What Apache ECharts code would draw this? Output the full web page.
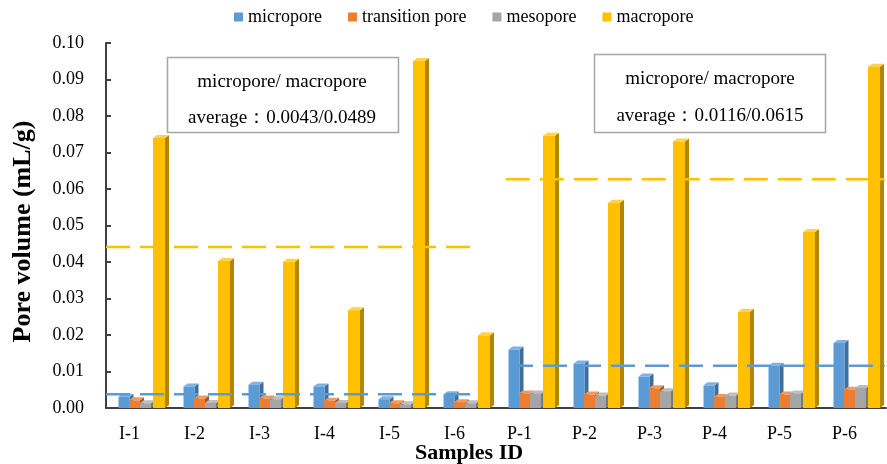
<!DOCTYPE html>
<html><head><meta charset="utf-8">
<script src="https://cdn.jsdelivr.net/npm/echarts@6/dist/echarts.min.js"></script>
<style>html,body{margin:0;padding:0;background:#fff}#c{width:887px;height:464px}</style>
</head><body><div id="c"></div><script>
const categories = ['I-1','I-2','I-3','I-4','I-5','I-6','P-1','P-2','P-3','P-4','P-5','P-6'];
const micropore      = [0.0031,0.0059,0.0064,0.0059,0.0024,0.0038,0.0160,0.0122,0.0086,0.0062,0.0116,0.0178];
const transitionPore = [0.0021,0.0026,0.0026,0.0020,0.0013,0.0016,0.0040,0.0037,0.0054,0.0030,0.0037,0.0050];
const mesopore       = [0.0013,0.0014,0.0024,0.0014,0.0010,0.0013,0.0040,0.0034,0.0046,0.0034,0.0040,0.0055];
const macropore      = [0.0740,0.0403,0.0401,0.0268,0.0951,0.0199,0.0746,0.0562,0.0730,0.0264,0.0482,0.0935];
const seriesNames = ['micropore','transition pore','mesopore','macropore'];
// dashed average lines as drawn: [start position, end position, value] in category units
const microAvgI = [0, 5.7, 0.0038];
const macroAvgI = [0, 5.7, 0.0441];
const microAvgP = [6.2, 11.98, 0.0116];
const macroAvgP = [6.15, 11.98, 0.0627];
const boxLine1 = 'micropore/ macropore';
const boxLine2I = 'average：0.0043/0.0489';
const boxLine2P = 'average：0.0116/0.0615';

const serif = '"Liberation Serif","Times New Roman",serif';
const pal = [
  {front:'#5B9BD5', side:'#3F6E9A', top:'#7FB2E0', off:-20, w:11},
  {front:'#ED7D31', side:'#A95823', top:'#F29A5E', off:-9.5, w:11},
  {front:'#A5A5A5', side:'#787878', top:'#BDBDBD', off:1.5, w:11},
  {front:'#FFC000', side:'#B38600', top:'#FFD24D', off:14.5, w:12}
];
function make3D(c){
  return function(params, api){
    const i = api.value(0), v = api.value(1);
    const p = api.coord([i, v]); const b = api.coord([i, 0]);
    const x0 = p[0] + c.off, w = c.w, d = 4, dy = 3;
    const yT = p[1], yB = b[1];
    return {type:'group', children:[
      {type:'polygon', shape:{points:[[x0+w,yT],[x0+w+d,yT-dy],[x0+w+d,yB-dy],[x0+w,yB]]}, style:{fill:c.side}},
      {type:'polygon', shape:{points:[[x0,yT],[x0+d,yT-dy],[x0+w+d,yT-dy],[x0+w,yT]]}, style:{fill:c.top}},
      {type:'rect', shape:{x:x0,y:yT,width:w,height:yB-yT}, style:{fill:c.front}}
    ]};
  };
}
const dataSets = [micropore, transitionPore, mesopore, macropore];
const barSeries = dataSets.map((arr, k) => ({
  type:'custom', name:seriesNames[k], xAxisIndex:0, yAxisIndex:0,
  itemStyle:{color:pal[k].front},
  renderItem: make3D(pal[k]),
  encode:{x:0, y:1},
  data: arr.map((v, i) => [i, v]),
  z: 2
}));
function avgLine(seg, color){
  return {type:'line', xAxisIndex:1, yAxisIndex:0, symbol:'none', silent:true, z:5,
    lineStyle:{color:color, width:2.5, type:[24,10]},
    data:[[seg[0], seg[2]],[seg[1], seg[2]]]};
}
const chart = echarts.init(document.getElementById('c'));
chart.setOption({
  animation:false,
  legend:{
    left:229, top:3, itemWidth:9, itemHeight:9, itemGap:26,
    data: seriesNames.map(n => ({name:n, icon:'rect'})),
    textStyle:{fontFamily:serif, fontSize:18, color:'#000'}
  },
  grid:{left:106, right:1, top:43, bottom:56, outerBoundsMode:'none', containLabel:false},
  xAxis:[{
    type:'category', data:categories,
    axisLine:{lineStyle:{color:'#404040', width:2}},
    axisTick:{show:false},
    axisLabel:{fontFamily:serif, fontSize:18, color:'#000', margin:17, padding:[0,18,0,0]},
    name:'Samples ID', nameLocation:'middle', nameGap:34, nameMoveOverlap:false,
    nameTextStyle:{fontFamily:serif, fontSize:22, fontWeight:'bold', color:'#000', padding:[0,54,0,0]}
  },{
    type:'value', min:0, max:12, show:false
  }],
  yAxis:{
    type:'value', min:0, max:0.1, interval:0.01,
    axisLine:{show:true, lineStyle:{color:'#404040', width:2}},
    axisTick:{show:true, inside:true, length:5, lineStyle:{color:'#404040', width:2}},
    splitLine:{show:false},
    axisLabel:{fontFamily:serif, fontSize:18, color:'#000', margin:22, formatter:v => v.toFixed(2)},
    name:'Pore volume (mL/g)', nameLocation:'middle', nameGap:70, nameMoveOverlap:false,
    nameTextStyle:{fontFamily:serif, fontSize:26, fontWeight:'bold', color:'#000', padding:[0,12,0,0]}
  },
  series: barSeries.concat([
    avgLine(macroAvgI, '#FFC000'), avgLine(microAvgI, '#5B9BD5'),
    avgLine(macroAvgP, '#FFC000'), avgLine(microAvgP, '#5B9BD5')
  ]),
  graphic:[
    {type:'rect', shape:{x:167.5,y:57.5,width:231,height:75}, style:{fill:'#fff', stroke:'#A6A6A6', lineWidth:1.5}, z:10},
    {type:'text', x:282, y:82, style:{text:boxLine1, textAlign:'center', textVerticalAlign:'middle', font:'19px '+serif, fill:'#000'}, z:11},
    {type:'text', x:282, y:118, style:{text:boxLine2I, textAlign:'center', textVerticalAlign:'middle', font:'19px '+serif, fill:'#000'}, z:11},
    {type:'rect', shape:{x:594.5,y:54.5,width:231,height:78}, style:{fill:'#fff', stroke:'#A6A6A6', lineWidth:1.5}, z:10},
    {type:'text', x:710, y:79, style:{text:boxLine1, textAlign:'center', textVerticalAlign:'middle', font:'19px '+serif, fill:'#000'}, z:11},
    {type:'text', x:710, y:116, style:{text:boxLine2P, textAlign:'center', textVerticalAlign:'middle', font:'19px '+serif, fill:'#000'}, z:11}
  ]
});
</script></body></html>
